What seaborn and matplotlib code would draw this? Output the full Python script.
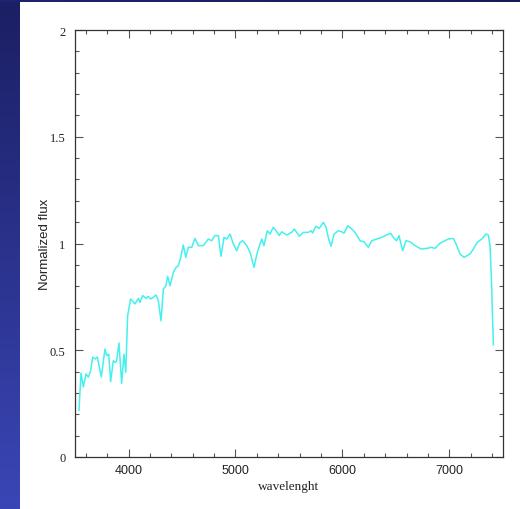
import numpy as np
import pandas as pd
import matplotlib
matplotlib.use("Agg")
import matplotlib.pyplot as plt
from matplotlib.ticker import MultipleLocator, FuncFormatter
from matplotlib.colors import LinearSegmentedColormap
import seaborn as sns

# Normalised spectrum (wavelength in Angstrom, flux normalised to ~1)
wavelength = [
    3537, 3556, 3578, 3603, 3625, 3646, 3665, 3687, 3709, 3746, 3780, 3796,
    3815, 3833, 3858, 3877, 3889, 3911, 3936, 3958, 3974, 3992, 4020, 4061,
    4092, 4107, 4132, 4164, 4185, 4207, 4232, 4257, 4279, 4304, 4326, 4350,
    4366, 4388, 4419, 4444, 4466, 4488, 4512, 4535, 4559, 4591, 4621, 4653,
    4699, 4746, 4777, 4808, 4840, 4864, 4893, 4918, 4949, 4980, 5011, 5042,
    5067, 5105, 5136, 5173, 5204, 5245, 5266, 5297, 5322, 5353, 5379, 5409,
    5432, 5478, 5525, 5550, 5596, 5634, 5680, 5706, 5721, 5752, 5783, 5821,
    5846, 5871, 5893, 5921, 5961, 5993, 6014, 6049, 6086, 6117, 6164, 6201,
    6241, 6273, 6320, 6366, 6413, 6450, 6481, 6506, 6528, 6562, 6593, 6631,
    6678, 6734, 6787, 6834, 6864, 6911, 6958, 6989, 7036, 7061, 7098, 7136,
    7192, 7223, 7260, 7301, 7341, 7363, 7379, 7394, 7403, 7410,
]
flux = [
    0.217, 0.393, 0.328, 0.389, 0.374, 0.404, 0.468, 0.459, 0.468, 0.375, 0.506, 0.475,
    0.482, 0.353, 0.451, 0.443, 0.451, 0.534, 0.345, 0.482, 0.397, 0.662, 0.740, 0.717,
    0.743, 0.724, 0.756, 0.743, 0.752, 0.740, 0.748, 0.759, 0.732, 0.638, 0.787, 0.802,
    0.846, 0.802, 0.865, 0.888, 0.896, 0.935, 0.993, 0.935, 0.982, 0.982, 1.024, 0.990,
    0.990, 1.021, 1.013, 1.037, 1.037, 0.940, 1.029, 1.021, 1.044, 0.998, 0.966, 1.005,
    1.013, 0.990, 0.959, 0.888, 0.959, 1.021, 0.990, 1.060, 1.044, 1.076, 1.060, 1.037,
    1.055, 1.040, 1.052, 1.068, 1.034, 1.052, 1.052, 1.060, 1.049, 1.081, 1.071, 1.099,
    1.076, 1.021, 0.987, 1.044, 1.060, 1.055, 1.048, 1.083, 1.068, 1.052, 1.013, 1.008,
    0.982, 1.013, 1.021, 1.029, 1.040, 1.048, 1.024, 1.013, 1.037, 0.966, 1.013, 1.008,
    0.990, 0.974, 0.977, 0.982, 0.977, 1.001, 1.013, 1.021, 1.024, 0.998, 0.951, 0.935,
    0.951, 0.974, 1.006, 1.021, 1.044, 1.040, 0.990, 0.800, 0.650, 0.525,
]

df = pd.DataFrame({"wavelength": wavelength, "flux": flux})

sns.set_style("ticks")
plt.rcParams["font.family"] = ["Liberation Sans", "DejaVu Sans"]
SERIF = ["Liberation Serif", "DejaVu Serif"]

fig = plt.figure(figsize=(5.2, 5.1), dpi=100, facecolor="white")
W, H = 520, 510

# Blue frame strips along the left and top edges
left_ax = fig.add_axes([0, 0, 20 / W, 1])
frame_cmap = LinearSegmentedColormap.from_list("frame", ["#1b1f63", "#3a46b6"])
left_ax.imshow(np.linspace(0, 1, 256).reshape(-1, 1), aspect="auto",
               cmap=frame_cmap, extent=[0, 1, 1, 0])
left_ax.set_axis_off()
top_ax = fig.add_axes([0, 1 - 3 / H, 1, 3 / H])
top_ax.imshow(np.linspace(0, 1, 256).reshape(1, -1), aspect="auto",
              cmap=LinearSegmentedColormap.from_list("top", ["#1f2370", "#171b55"]))
top_ax.set_axis_off()

# Spectrum panel
ax = fig.add_axes([75 / W, 1 - 458 / H, 428 / W, 427 / H])
sns.lineplot(data=df, x="wavelength", y="flux", ax=ax, color="#45f0ee",
             linewidth=1.1, sort=False)

ax.set_xlim(3500, 7500)
ax.set_ylim(0, 2)
ax.xaxis.set_major_locator(MultipleLocator(1000))
ax.xaxis.set_minor_locator(MultipleLocator(200))
ax.yaxis.set_major_locator(MultipleLocator(0.5))
ax.yaxis.set_minor_locator(MultipleLocator(0.1))
ax.yaxis.set_major_formatter(FuncFormatter(lambda v, p: f"{v:g}"))

ax.tick_params(which="both", direction="in", top=True, right=True,
               color="#555555", width=0.8)
ax.tick_params(which="major", length=6)
ax.tick_params(which="minor", length=3)
ax.tick_params(axis="x", labelsize=9, pad=5, labelcolor="#222222")
ax.tick_params(axis="y", labelsize=9, pad=7, labelcolor="#222222")
for lab in ax.get_yticklabels():
    lab.set_family(SERIF)
for s in ax.spines.values():
    s.set_color("#333333")
    s.set_linewidth(0.9)

ax.set_xlabel("wavelenght", fontsize=9.5, family=SERIF, color="#222222",
              labelpad=3)
ax.set_ylabel("Normalized flux", fontsize=9.5, color="#222222", labelpad=-1)

fig.savefig("out.png", dpi=100, facecolor="white")
